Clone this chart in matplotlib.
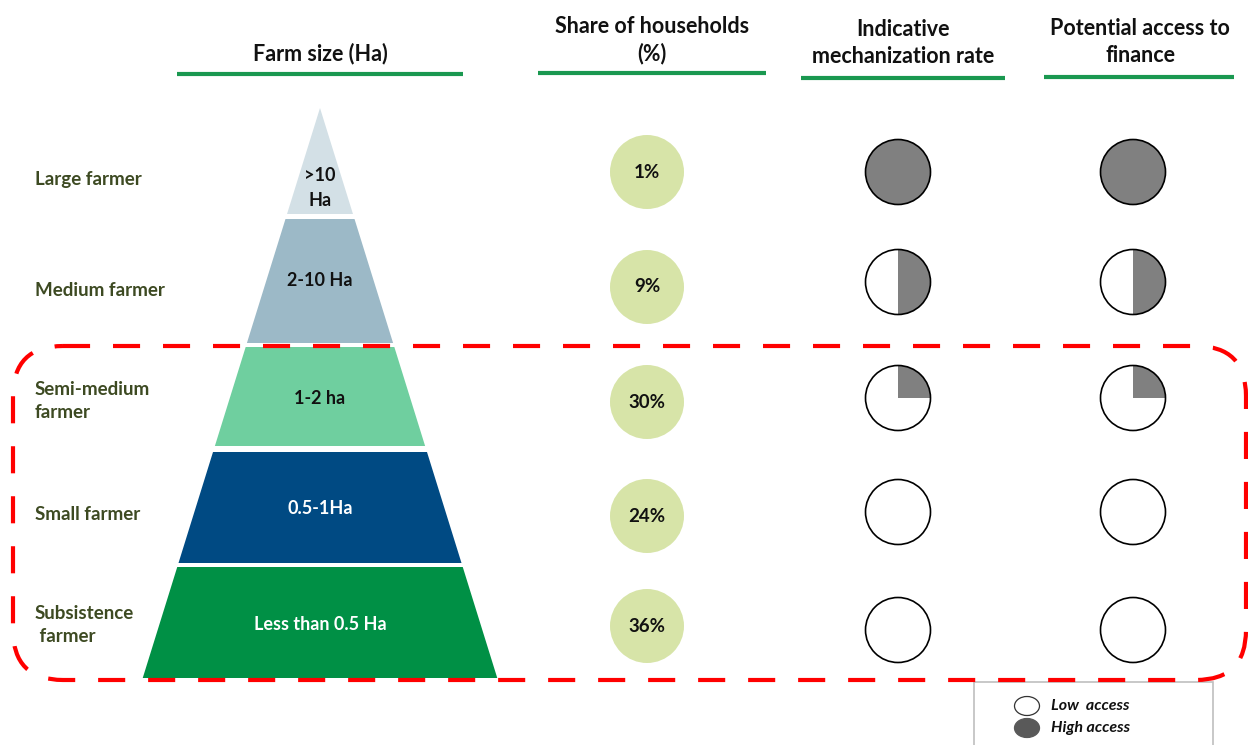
import matplotlib.pyplot as plt
from matplotlib.patches import Polygon, Circle, Wedge, Ellipse, FancyBboxPatch, Rectangle

plt.rcParams['font.family'] = ['Lato', 'DejaVu Sans']

# Segments, from the top of the pyramid down
farmer_types = ['Large farmer', 'Medium farmer', 'Semi-medium\nfarmer',
                'Small farmer', 'Subsistence\n farmer']
farm_sizes = ['>10\nHa', '2-10 Ha', '1-2 ha', '0.5-1Ha', 'Less than 0.5 Ha']
household_share = [1, 9, 30, 24, 36]          # %
mechanization = [1.0, 0.5, 0.25, 0.0, 0.0]   # share of ball filled
finance_access = [1.0, 0.5, 0.25, 0.0, 0.0]

headers = ['Farm size (Ha)', 'Share of households\n(%)',
           'Indicative\nmechanization rate', 'Potential access to\nfinance']

tier_colors = ['#d3e0e6', '#9cb9c7', '#6fcf9f', '#004a83', '#009045']
tier_text = ['#111111', '#111111', '#111111', 'white', 'white']
label_color = '#3d4a22'
green = '#1a9850'

fig = plt.figure(figsize=(12.48, 7.45), dpi=100)
ax = fig.add_axes([0, 0, 1, 1])
ax.set_xlim(0, 1248)
ax.set_ylim(745, 0)
ax.set_aspect('equal')
ax.axis('off')

# column headers with green underline
head_x = [320, 652, 903, 1140]
head_y = [54, 40, 43, 42]
line_y = [74, 73, 78, 77]
line_span = [(177, 463), (538, 766), (801, 1005), (1044, 1234)]
for t, x, y, ly, (x0, x1) in zip(headers, head_x, head_y, line_y, line_span):
    ax.text(x, y, t, ha='center', va='center', fontsize=15.5, fontweight='bold',
            color='#111111', linespacing=1.35)
    ax.plot([x0, x1], [ly, ly], color=green, lw=3, solid_capstyle='butt')

# pyramid
apex_x, apex_y, slope = 320, 108, 0.311
tops = [108, 219, 347, 452, 567]
bottoms = [214, 343, 446, 563, 678]
size_y = [188, 281, 398, 509, 624]
label_y = [179, 291, 401, 514, 625]
for i in range(len(farm_sizes)):
    t, b = tops[i], bottoms[i]
    wt, wb = (t - apex_y) * slope, (b - apex_y) * slope
    ax.add_patch(Polygon([(apex_x - wt, t), (apex_x + wt, t),
                          (apex_x + wb, b), (apex_x - wb, b)],
                         closed=True, facecolor=tier_colors[i], edgecolor='none'))
    ax.text(apex_x, size_y[i], farm_sizes[i], ha='center', va='center',
            fontsize=13, fontweight='bold', color=tier_text[i], linespacing=1.55)
    ax.text(35, label_y[i], farmer_types[i], ha='left', va='center',
            fontsize=13.5, fontweight='bold', color=label_color, linespacing=1.45)

# share of households
share_y = [172, 287, 402, 516, 626]
for s, y in zip(household_share, share_y):
    ax.add_patch(Circle((647, y), 37, facecolor='#d7e4a8', edgecolor='none'))
    ax.text(647, y, f'{s}%', ha='center', va='center', fontsize=13.5,
            fontweight='bold', color='#111111')

# harvey balls (y axis runs downward, so -90 deg is the top of the ball)
ball_y = [172, 282, 398, 512, 630]


def harvey(x, y, frac):
    ax.add_patch(Circle((x, y), 32.5, facecolor='white', edgecolor='none', zorder=2))
    if frac > 0:
        ax.add_patch(Wedge((x, y), 32.5, -90, -90 + 360 * frac,
                           facecolor='#808080', edgecolor='none', zorder=3))
    ax.add_patch(Circle((x, y), 32.5, facecolor='none', edgecolor='black',
                        lw=1.2, zorder=4))


for f, y in zip(mechanization, ball_y):
    harvey(898, y, f)
for f, y in zip(finance_access, ball_y):
    harvey(1133, y, f)

# red dashed frame round the smaller farms
frame = FancyBboxPatch((13, 346), 1233, 334,
                       boxstyle='round,pad=0,rounding_size=50',
                       facecolor='none', edgecolor='#ff0000', lw=3,
                       linestyle=(0, (6.5, 5.5)), zorder=6)
ax.add_patch(frame)

# legend
ax.add_patch(Rectangle((974, 682), 239, 80, facecolor='white',
                       edgecolor='#bfbfbf', lw=1.2, zorder=5))
ax.add_patch(Ellipse((1027, 706), 25, 19, facecolor='white',
                     edgecolor='#333333', lw=0.9, zorder=7))
ax.add_patch(Ellipse((1027, 728), 25, 19, facecolor='#595959',
                     edgecolor='#595959', lw=0.9, zorder=7))
ax.text(1051, 706, 'Low  access', ha='left', va='center', fontsize=11.5,
        fontweight='bold', fontstyle='italic', color='#111111', zorder=7)
ax.text(1051, 728, 'High access', ha='left', va='center', fontsize=11.5,
        fontweight='bold', fontstyle='italic', color='#111111', zorder=7)

fig.savefig('out.png', dpi=100)
